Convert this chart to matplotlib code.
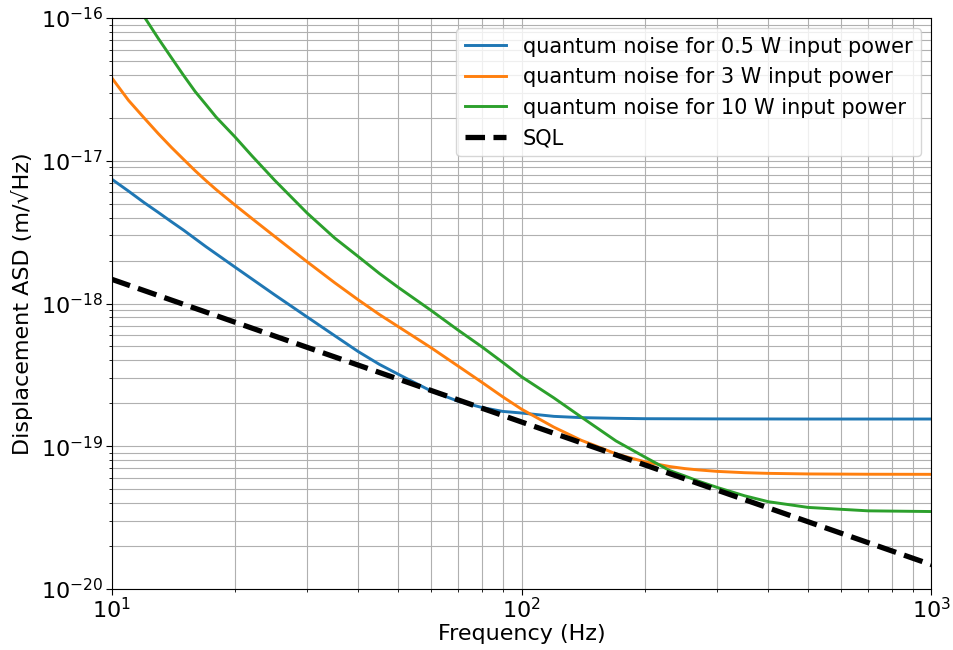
#
# Quantum noise (displacement ASD) for three input powers, compared with the SQL
#

import matplotlib
matplotlib.use("Agg")
import matplotlib.pyplot as plt

# Values
freqBlue = [10, 11, 12, 13, 14, 15, 17, 20, 25, 30, 35, 40, 45, 50, 60, 70, 80, 90, 100,
            120, 140, 170, 200, 300, 500, 700, 1000]
asdBlue = [7.45e-18, 6.13e-18, 5.1e-18, 4.35e-18, 3.74e-18, 3.26e-18, 2.5e-18, 1.8e-18,
           1.15e-18, 8.05e-19, 5.96e-19, 4.6e-19, 3.75e-19, 3.2e-19, 2.45e-19, 2.07e-19,
           1.87e-19, 1.755e-19, 1.71e-19, 1.62e-19, 1.587e-19, 1.57e-19, 1.56e-19,
           1.555e-19, 1.552e-19, 1.552e-19, 1.552e-19]

freqOrange = [10, 11, 12, 13, 14, 15, 16, 17, 18, 20, 22, 25, 30, 35, 40, 45, 50, 60, 70,
              80, 90, 100, 120, 140, 150, 170, 200, 230, 250, 270, 300, 350, 400, 500,
              700, 1000]
asdOrange = [3.83e-17, 2.65e-17, 2.0e-17, 1.55e-17, 1.241e-17, 1.02e-17, 8.51e-18,
             7.25e-18, 6.28e-18, 4.9e-18, 3.94e-18, 2.95e-18, 1.96e-18, 1.4e-18, 1.06e-18,
             8.38e-19, 6.9e-19, 4.93e-19, 3.65e-19, 2.81e-19, 2.22e-19, 1.82e-19, 1.36e-19,
             1.1e-19, 1.02e-19, 8.85e-20, 7.78e-20, 7.21e-20, 6.98e-20, 6.83e-20, 6.67e-20,
             6.53e-20, 6.46e-20, 6.4e-20, 6.37e-20, 6.36e-20]

freqGreen = [11.8, 12.07, 13, 14, 15, 16, 17, 18, 20, 22, 25, 30, 35, 40, 45, 50, 60, 70,
             80, 90, 100, 120, 140, 170, 200, 230, 250, 270, 300, 350, 400, 500, 700, 1000]
asdGreen = [1.1e-16, 1.0e-16, 7.2e-17, 5.27e-17, 3.95e-17, 3.05e-17, 2.47e-17, 2.02e-17,
            1.47e-17, 1.083e-17, 7.3e-18, 4.3e-18, 2.88e-18, 2.13e-18, 1.625e-18, 1.3e-18,
            9.0e-19, 6.52e-19, 4.98e-19, 3.87e-19, 3.07e-19, 2.18e-19, 1.6e-19, 1.09e-19,
            8.4e-20, 6.75e-20, 6.2e-20, 5.7e-20, 5.15e-20, 4.5e-20, 4.09e-20, 3.73e-20,
            3.53e-20, 3.49e-20]

freqSQL = [10, 1000]
asdSQL = [1.48e-18, 1.48e-20]

xTicks = [10, 100, 1000]
yTicks = [1e-20, 1e-19, 1e-18, 1e-17, 1e-16]

labels = ["quantum noise for 0.5 W input power",
          "quantum noise for 3 W input power",
          "quantum noise for 10 W input power",
          "SQL"]

if __name__ == "__main__":
    fig = plt.figure(figsize=(9.54, 6.5), dpi=100)
    ax = fig.add_axes([0.1169, 0.0938, 0.8595, 0.8785])

    ax.plot(freqBlue, asdBlue, color="#1f77b4", lw=2.1, label=labels[0])
    ax.plot(freqOrange, asdOrange, color="#ff7f0e", lw=2.1, label=labels[1])
    ax.plot(freqGreen, asdGreen, color="#2ca02c", lw=2.1, label=labels[2])
    ax.plot(freqSQL, asdSQL, "k--", lw=3.8, label=labels[3])

    ax.set_xscale("log")
    ax.set_yscale("log")
    ax.set_xticks(xTicks)
    ax.set_yticks(yTicks)
    ax.set_xlim(10, 1000)
    ax.set_ylim(1e-20, 1e-16)

    ax.grid(which="both", color="#b0b0b0", lw=0.8)
    ax.tick_params(which="major", labelsize=16, length=4, pad=2)
    ax.tick_params(which="minor", length=2.5)
    ax.set_xlabel("Frequency (Hz)", fontsize=16, labelpad=1)
    ax.set_ylabel("Displacement ASD (m/\u221aHz)", fontsize=16, labelpad=5.5)
    ax.legend(loc="upper right", fontsize=15)

    fig.savefig("out.png", dpi=100)
